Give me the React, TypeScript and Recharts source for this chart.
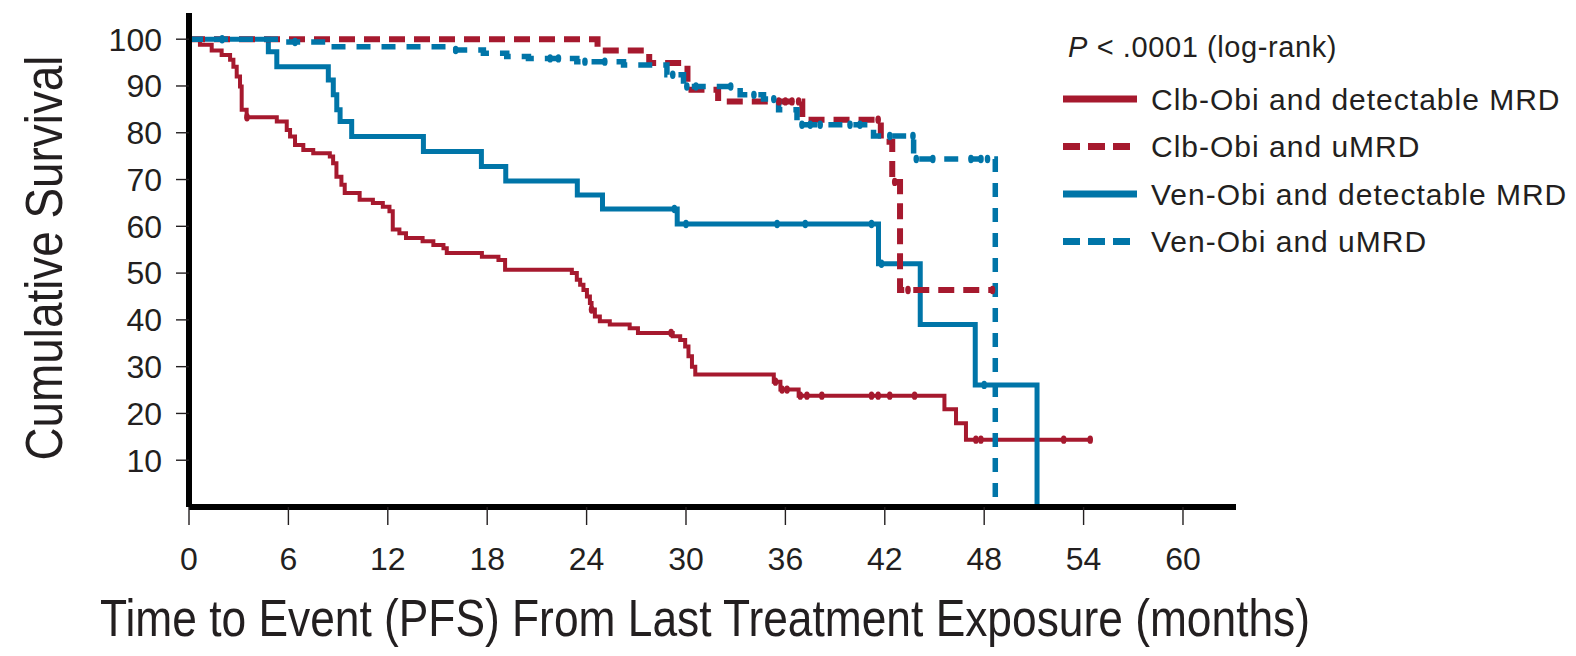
import { ComposedChart, Line, Scatter, XAxis, YAxis } from 'recharts';

// Clb-Obi and detectable MRD
const clbDetT = [0, 0.66, 1.37, 1.97, 2.48, 2.68, 2.88, 3.08, 3.18, 3.48, 5.3, 5.9, 6.1, 6.4, 6.9, 7.5, 8.5, 8.7, 8.9, 9.2, 9.4, 10.3, 11.1, 11.7, 12.1, 12.3, 12.7, 13.1, 14.1, 14.75, 15.36, 15.56, 17.68, 18.68, 19.08, 23.11, 23.41, 23.61, 23.81, 24.02, 24.2, 24.3, 24.5, 24.8, 25.4, 26.6, 27.1, 29.2, 29.65, 29.95, 30.15, 30.36, 30.56, 35.3, 35.7, 36.8, 45.6, 46.3, 46.9, 54.4];
const clbDetS = [100, 98.8, 97.6, 96.6, 95.6, 94.1, 92.0, 89.9, 84.9, 83.3, 82.4, 80.6, 79.2, 77.4, 76.3, 75.6, 74.9, 73.5, 70.6, 68.9, 67.1, 65.7, 65.0, 64.2, 63.2, 59.3, 58.5, 57.5, 56.8, 56.0, 55.3, 54.3, 53.5, 52.8, 50.7, 50.0, 48.6, 47.5, 46.4, 45.0, 43.6, 42.2, 40.7, 39.7, 39.0, 38.2, 37.2, 36.5, 35.7, 34.3, 32.2, 30.0, 28.3, 26.8, 25.1, 23.8, 20.9, 17.9, 14.4, 14.4];
const clbDetCensor = [3.5, 24.3, 29.1, 35.4, 35.8, 36.1, 36.9, 37.3, 38.2, 41.2, 41.6, 42.3, 43.8, 47.5, 47.8, 52.8, 54.4];

// Clb-Obi and uMRD
const clbUT = [0, 24.66, 27.78, 30.09, 31.94, 37.02, 41.76, 42.45, 42.92, 48.57];
const clbUS = [100, 97.6, 94.9, 89.2, 86.7, 82.8, 78.1, 69.5, 46.4, 46.4];
const clbUCensor = [35.6, 36.0, 36.4, 36.8, 41.6, 42.6, 43.4, 48.5];

// Ven-Obi and detectable MRD
const venDetT = [0, 4.79, 5.3, 8.41, 8.71, 8.92, 9.12, 9.82, 14.15, 17.65, 19.12, 23.44, 24.96, 29.47, 41.62, 44.14, 47.46, 51.19];
const venDetS = [100, 97.3, 94.1, 91.3, 88.1, 84.9, 82.4, 79.2, 76.0, 72.8, 69.7, 66.7, 63.7, 60.5, 52.0, 39.0, 26.1, 0];
const venDetCensor = [29.3, 30.0, 35.5, 37.2, 41.2, 41.8, 48.0];

// Ven-Obi and uMRD
const venUT = [0, 5.5, 8.6, 15.86, 17.77, 19.18, 20.49, 23.41, 26.23, 28.85, 29.85, 33.27, 34.68, 35.59, 36.7, 41.32, 43.74, 48.67];
const venUS = [100, 99.4, 98.4, 97.7, 97.0, 96.3, 95.9, 95.2, 94.5, 92.4, 89.9, 88.1, 87.2, 84.9, 81.7, 79.3, 74.4, 0];
const venUCensor = [2.0, 6.4, 16.1, 21.8, 22.3, 23.9, 25.1, 29.2, 30.05, 30.6, 32.7, 34.1, 35.3, 37.0, 37.5, 38.1, 39.9, 40.5, 42.3, 43.7, 43.9, 44.9, 47.2, 47.8, 48.2];

const xTicks = [0, 6, 12, 18, 24, 30, 36, 42, 48, 54, 60];
const yTicks = [10, 20, 30, 40, 50, 60, 70, 80, 90, 100];

const legendNames = ['Clb-Obi and detectable MRD', 'Clb-Obi and uMRD', 'Ven-Obi and detectable MRD', 'Ven-Obi and uMRD'];

const RED = '#a6192e';
const BLUE = '#0075a8';
const INK = '#231f20';
const SANS = '"Liberation Sans", Arial, sans-serif';

const toRows = (ts: number[], ss: number[]) => ts.map((t, i) => ({ t, s: ss[i] }));

// level of the step curve at a censor time
const levelAt = (ts: number[], ss: number[], x: number) => {
  let v = ss[0];
  for (let i = 0; i < ts.length; i++) if (ts[i] <= x) v = ss[i];
  return v;
};
const censorRows = (ts: number[], ss: number[], cs: number[]) => cs.map((t) => ({ t, s: levelAt(ts, ss, t) }));

const censorShape = (color: string) => (props: any) => (
  <ellipse cx={props.cx} cy={props.cy} rx={2.8} ry={4.2} fill={color} />
);

const series = [
  { name: legendNames[0], rows: toRows(clbDetT, clbDetS), cens: censorRows(clbDetT, clbDetS, clbDetCensor), color: RED, width: 4, dash: undefined },
  { name: legendNames[2], rows: toRows(venDetT, venDetS), cens: censorRows(venDetT, venDetS, venDetCensor), color: BLUE, width: 5, dash: undefined },
  { name: legendNames[1], rows: toRows(clbUT, clbUS), cens: censorRows(clbUT, clbUS, clbUCensor), color: RED, width: 6, dash: '16 9' },
  { name: legendNames[3], rows: toRows(venUT, venUS), cens: censorRows(venUT, venUS, venUCensor), color: BLUE, width: 5.5, dash: '14 11' },
];

const legendItems = [
  { name: legendNames[0], color: RED, dash: undefined },
  { name: legendNames[1], color: RED, dash: '17 8' },
  { name: legendNames[2], color: BLUE, dash: undefined },
  { name: legendNames[3], color: BLUE, dash: '17 8' },
];

export default function App() {
  return (
    <div style={{ position: 'absolute', left: 0, top: 0, width: 1576, height: 656, background: '#fff' }}>
      <ComposedChart width={1576} height={656} margin={{ top: 13, right: 340, bottom: 89, left: 109 }}>
        <XAxis
          type="number"
          dataKey="t"
          domain={[0, 63.2]}
          ticks={xTicks}
          allowDataOverflow
          height={60}
          tickSize={18}
          tickMargin={22}
          axisLine={{ stroke: '#000', strokeWidth: 6 }}
          tickLine={{ stroke: INK, strokeWidth: 1.4 }}
          tick={{ fill: INK, fontSize: 32, fontFamily: SANS }}
        />
        <YAxis
          type="number"
          dataKey="s"
          domain={[0, 105.6]}
          ticks={yTicks}
          allowDataOverflow
          width={80}
          tickSize={13}
          tickMargin={14}
          axisLine={{ stroke: '#000', strokeWidth: 6 }}
          tickLine={{ stroke: INK, strokeWidth: 1.4 }}
          tick={{ fill: INK, fontSize: 32, fontFamily: SANS }}
        />
        {series.map((s) => (
          <Line
            key={s.name}
            data={s.rows}
            dataKey="s"
            type="stepAfter"
            stroke={s.color}
            strokeWidth={s.width}
            strokeDasharray={s.dash}
            dot={false}
            activeDot={false}
            isAnimationActive={false}
          />
        ))}
        {series.map((s) => (
          <Scatter
            key={s.name + '-c'}
            data={s.cens}
            dataKey="s"
            shape={censorShape(s.color)}
            isAnimationActive={false}
          />
        ))}
      </ComposedChart>
      <svg width={1576} height={656} style={{ position: 'absolute', left: 0, top: 0, pointerEvents: 'none' }}>
        <text
          transform="translate(44 258) rotate(-90)"
          textAnchor="middle"
          dominantBaseline="central"
          fontFamily={SANS}
          fontSize={51}
          fill={INK}
          textLength={405}
          lengthAdjust="spacingAndGlyphs"
        >
          Cumulative Survival
        </text>
        <text
          x={705}
          y={618}
          textAnchor="middle"
          dominantBaseline="central"
          fontFamily={SANS}
          fontSize={52}
          fill={INK}
          textLength={1210}
          lengthAdjust="spacingAndGlyphs"
        >
          Time to Event (PFS) From Last Treatment Exposure (months)
        </text>
        <text x={1068} y={47} dominantBaseline="central" fontFamily={SANS} fontSize={29} fill={INK} letterSpacing={0.6}>
          <tspan fontStyle="italic">P</tspan> {'< .0001 (log-rank)'}
        </text>
        {legendItems.map((it, i) => {
          const y = 99 + i * 47.5;
          return (
            <g key={it.name}>
              <line x1={1063} x2={1137} y1={y} y2={y} stroke={it.color} strokeWidth={7} strokeDasharray={it.dash} />
              <text x={1151} y={y} dominantBaseline="central" fontFamily={SANS} fontSize={30} fill={INK} letterSpacing={1}>
                {it.name}
              </text>
            </g>
          );
        })}
      </svg>
    </div>
  );
}
